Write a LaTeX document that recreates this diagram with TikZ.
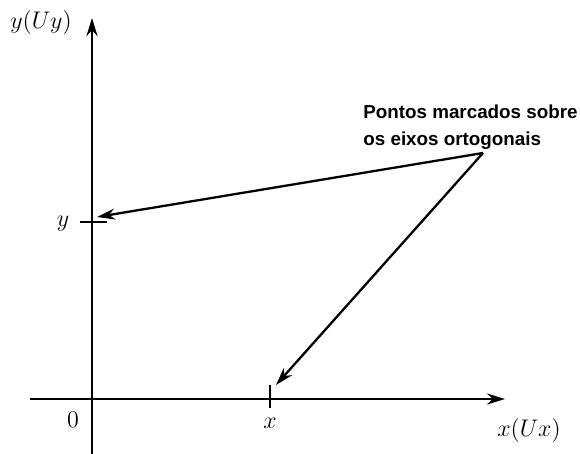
\documentclass[tikz,border=0pt]{standalone}
\usepackage{fontspec}
\newfontfamily\notefont{Liberation Sans}
\usetikzlibrary{arrows.meta}
\tikzset{
  axis/.style={line width=1.3pt, -{Stealth[length=9pt,width=5.5pt]}},
  tickmark/.style={line width=1.3pt},
  arr/.style={line width=1.15pt, -{Stealth[length=9pt,width=5.5pt]}},
  lbl/.style={font=\fontsize{12}{14}\selectfont, inner sep=0pt},
  note/.style={font=\notefont\bfseries\fontsize{9.4}{13.5}\selectfont, align=left, inner sep=0pt},
}

\begin{document}
\begin{tikzpicture}[x=0.5pt,y=-0.5pt]
  \useasboundingbox (0,0) rectangle (580,454);
  % axes
  \coordinate (xstart) at (30,399);
  \coordinate (xend) at (505,399);
  \coordinate (ystart) at (92,454);
  \coordinate (yend) at (92,18);
  \draw[axis] (xstart) -- (xend);
  \draw[axis] (ystart) -- (yend);
  % marks on the axes
  \draw[tickmark] (80,222) coordinate (ya) -- (107,222) coordinate (yb);
  \draw[tickmark] (270,385) coordinate (xa) -- (270,408) coordinate (xb);
  \node[lbl] (ylbl) at (41,23) {$y(Uy)$};
  \node[lbl] (xlbl) at (529,431) {$x(Ux)$};
  \node[lbl] (zero) at (73,420) {$0$};
  \node[lbl] (ymark) at (63,224) {$y$};
  \node[lbl] (xmark) at (270,423) {$x$};
  % callout
  \node[note, anchor=north west] (note) at (363,104) {Pontos marcados sobre\\os eixos ortogonais};
  \coordinate (apex) at (483,153);
  \coordinate (ytip) at (97,217);
  \coordinate (xtip) at (276,385);
  \draw[arr] (apex) -- (ytip);
  \draw[arr] (apex) -- (xtip);
\end{tikzpicture}
\end{document}
